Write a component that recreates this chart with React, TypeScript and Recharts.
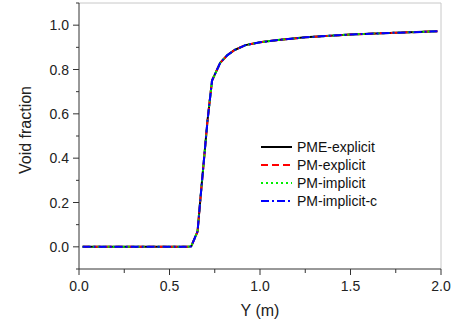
import React from 'react';
import {
  LineChart,
  Line,
  XAxis,
  YAxis,
  Legend,
  ReferenceLine
} from 'recharts';

// Y position (m)
const positions = [0.02, 0.1, 0.2, 0.3, 0.4, 0.5, 0.6, 0.62, 0.655, 0.67, 0.71, 0.735, 0.78, 0.82, 0.86, 0.92, 1.0, 1.1, 1.25, 1.5, 1.75, 1.98];
// void fraction per scheme (curves overlap almost exactly)
const pmeExplicit = [0, 0, 0, 0, 0, 0, 0, 0.002, 0.07, 0.21, 0.57, 0.75, 0.83, 0.865, 0.888, 0.91, 0.923, 0.933, 0.945, 0.958, 0.966, 0.972];
const pmExplicit = [0, 0, 0, 0, 0, 0, 0, 0.002, 0.068, 0.21, 0.57, 0.75, 0.83, 0.865, 0.888, 0.91, 0.923, 0.933, 0.945, 0.958, 0.966, 0.972];
const pmImplicit = [0, 0, 0, 0, 0, 0, 0, 0.002, 0.07, 0.21, 0.57, 0.75, 0.83, 0.865, 0.888, 0.91, 0.923, 0.933, 0.945, 0.958, 0.966, 0.972];
const pmImplicitC = [0, 0, 0, 0, 0, 0, 0, 0.002, 0.069, 0.21, 0.57, 0.75, 0.83, 0.865, 0.888, 0.91, 0.923, 0.933, 0.945, 0.958, 0.966, 0.972];

const xTicks = [0, 0.25, 0.5, 0.75, 1.0, 1.25, 1.5, 1.75, 2.0];
const yTicks = [-0.1, 0, 0.1, 0.2, 0.3, 0.4, 0.5, 0.6, 0.7, 0.8, 0.9, 1.0, 1.1];

const data = positions.map((y, i) => ({
  y,
  a: pmeExplicit[i],
  b: pmExplicit[i],
  c: pmImplicit[i],
  d: pmImplicitC[i]
}));

const series = [
  { key: 'a', name: 'PME-explicit', color: '#000000', dash: undefined },
  { key: 'b', name: 'PM-explicit', color: '#ff0000', dash: '7 4' },
  { key: 'c', name: 'PM-implicit', color: '#00ee00', dash: '2 3' },
  { key: 'd', name: 'PM-implicit-c', color: '#0000ff', dash: '8 3 2 3' }
];

const font = 'Liberation Sans, Arial, sans-serif';
const axisColor = '#333333';

const isMajor = (v: number, step: number) => Math.abs(Math.round(v / step) * step - v) < 1e-6;

const XTick = (props: any) => {
  const { x, y, payload } = props;
  const major = isMajor(payload.value, 0.5);
  return (
    <g>
      <line x1={x} y1={y} x2={x} y2={y + (major ? 6 : 4)} stroke={axisColor} />
      {major && (
        <text x={x} y={y + 22} textAnchor="middle" fontSize={14} fontFamily={font} fill="#222">
          {payload.value.toFixed(1)}
        </text>
      )}
    </g>
  );
};

const YTick = (props: any) => {
  const { x, y, payload } = props;
  const v = Math.round(payload.value * 10) / 10;
  const major = Math.round(v * 10) % 2 === 0;
  if (v < -0.05 || v > 1.05) {
    return <line x1={x} y1={y} x2={x - 3} y2={y} stroke={axisColor} />;
  }
  return (
    <g>
      <line x1={x} y1={y} x2={x - (major ? 6 : 3)} y2={y} stroke={axisColor} />
      {major && (
        <text x={x - 10} y={y + 5} textAnchor="end" fontSize={14} fontFamily={font} fill="#222">
          {v.toFixed(1)}
        </text>
      )}
    </g>
  );
};

const LegendBox = () => (
  <div style={{ fontFamily: font, fontSize: 14, color: '#111', lineHeight: '18px' }}>
    {series.map((s) => (
      <div key={s.key} style={{ display: 'flex', alignItems: 'center', height: 18 }}>
        <svg width={31} height={6} style={{ marginRight: 5 }}>
          <line x1={0} y1={3} x2={31} y2={3} stroke={s.color} strokeWidth={2} strokeDasharray={s.dash} />
        </svg>
        <span>{s.name}</span>
      </div>
    ))}
  </div>
);

export default function App() {
  return (
    <div style={{ position: 'absolute', left: 0, top: 0, width: 458, height: 320, background: '#fff' }}>
      <LineChart width={458} height={320} data={data} margin={{ top: 3, right: 17, bottom: 0, left: 0 }}>
        <XAxis
          dataKey="y"
          type="number"
          domain={[0, 2]}
          ticks={xTicks}
          interval={0}
          height={51}
          stroke={axisColor}
          tickLine={false}
          tickSize={0}
          tickMargin={0}
          tick={<XTick />}
          label={{
            content: (p: any) => (
              <text
                x={p.viewBox.x + p.viewBox.width / 2}
                y={p.viewBox.y + 47}
                textAnchor="middle"
                fontSize={16}
                fontFamily={font}
                fill="#222"
              >
                Y (m)
              </text>
            )
          }}
        />
        <YAxis
          type="number"
          domain={[-0.1, 1.1]}
          ticks={yTicks}
          interval={0}
          width={79}
          stroke={axisColor}
          tickLine={false}
          tickSize={0}
          tickMargin={0}
          tick={<YTick />}
          label={{
            content: (p: any) => {
              const cy = p.viewBox.y + p.viewBox.height / 2 - 6;
              return (
                <text
                  x={31}
                  y={cy}
                  transform={`rotate(-90, 31, ${cy})`}
                  textAnchor="middle"
                  fontSize={16}
                  fontFamily={font}
                  fill="#222"
                >
                  Void fraction
                </text>
              );
            }
          }}
        />
        <ReferenceLine y={1.1} stroke="#c8c8c8" />
        <ReferenceLine x={2} stroke="#c8c8c8" />
        {series.map((s) => (
          <Line
            key={s.key}
            dataKey={s.key}
            name={s.name}
            type="linear"
            stroke={s.color}
            strokeWidth={2}
            strokeDasharray={s.dash}
            dot={false}
            isAnimationActive={false}
          />
        ))}
        <Legend
          content={<LegendBox />}
          layout="horizontal"
          verticalAlign="middle"
          align="center"
          wrapperStyle={{ left: 261, top: 138, width: 160 }}
        />
      </LineChart>
    </div>
  );
}
